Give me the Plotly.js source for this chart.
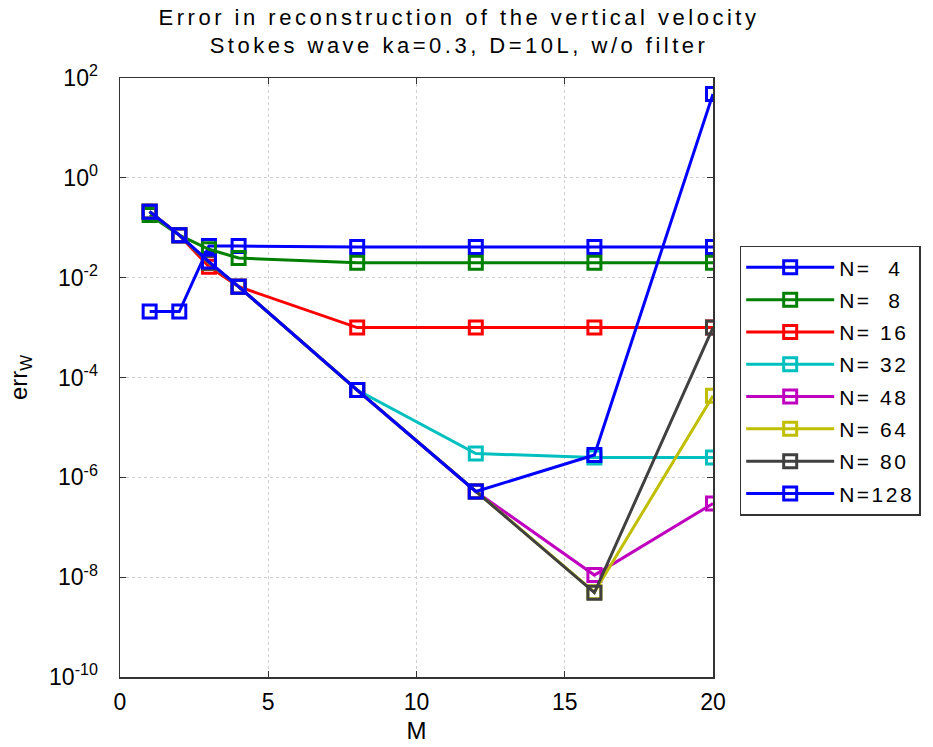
<!DOCTYPE html>
<html>
<head>
<meta charset="utf-8">
<script src="https://cdn.plot.ly/plotly-3.0.1.min.js"></script>
<style>
  html, body { margin: 0; padding: 0; background: #fff; }
  #chart { width: 933px; height: 747px; }
  /* wide tracking on the title and legend labels */
  .gtitle { letter-spacing: 3.5px; }
  .legendtext { letter-spacing: 2.5px; }
</style>
</head>
<body>
<div id="chart"></div>
<script>
// Truncation order M
const M = [1, 2, 3, 4, 8, 12, 16, 20];

// Error in reconstructed vertical velocity, one series per resolution N
const errN4   = [2.1e-3, 2.1e-3, 0.043, 0.043, 0.041, 0.041, 0.041, 0.041];
const errN8   = [0.18, 0.071, 0.037, 0.0247, 0.020, 0.020, 0.020, 0.020];
const errN16  = [0.21, 0.071, 0.0166, 0.0066, 1.0e-3, 1.0e-3, 1.0e-3, 1.0e-3];
const errN32  = [0.21, 0.071, 0.020, 0.0066, 5.6e-5, 3.0e-6, 2.5e-6, 2.5e-6];
const errN48  = [0.21, 0.071, 0.020, 0.0066, 5.6e-5, 5.2e-7, 1.1e-8, 3.0e-7];
const errN64  = [0.21, 0.071, 0.020, 0.0066, 5.6e-5, 5.2e-7, 5.0e-9, 4.3e-5];
const errN80  = [0.21, 0.071, 0.020, 0.0066, 5.6e-5, 5.2e-7, 4.9e-9, 1.0e-3];
const errN128 = [0.21, 0.071, 0.021, 0.0066, 5.6e-5, 5.2e-7, 2.8e-6, 48];

const seriesNames = ['N=  4', 'N=  8', 'N= 16', 'N= 32', 'N= 48', 'N= 64', 'N= 80', 'N=128'];
const seriesData = [errN4, errN8, errN16, errN32, errN48, errN64, errN80, errN128];
const seriesColors = ['#0000ff', '#008000', '#ff0000', '#00bfbf', '#bf00bf', '#bfbf00', '#404040', '#0000ff'];

// Decade ticks on the log axis
const yTickVals = [1e-10, 1e-8, 1e-6, 1e-4, 1e-2, 1e0, 1e2];
const yTickText = ['10<sup>-10</sup>', '10<sup>-8</sup>', '10<sup>-6</sup>', '10<sup>-4</sup>',
                   '10<sup>-2</sup>', '10<sup>0</sup>', '10<sup>2</sup>'];

const FONT = 'Liberation Sans, Arial, sans-serif';

const traces = seriesData.map((ys, i) => ({
  x: M,
  y: ys,
  name: seriesNames[i].replace(/ /g, '\u00a0'),
  type: 'scatter',
  mode: 'lines+markers',
  legendgroup: 'g' + i,
  line: { color: seriesColors[i], width: 3 },
  marker: {
    symbol: 'square-open',
    size: 13,
    color: seriesColors[i],
    line: { color: seriesColors[i], width: 3 }
  }
}));

const layout = {
  width: 933,
  height: 747,
  margin: { l: 120, r: 217, t: 78, b: 70 },
  paper_bgcolor: '#ffffff',
  plot_bgcolor: '#ffffff',
  font: { family: FONT, color: '#000000', size: 23 },
  title: {
    text: 'Error in reconstruction of the vertical velocity<br>Stokes wave ka=0.3, D=10L, w/o filter',
    font: { family: FONT, size: 22, color: '#000000' },
    x: 0.492,
    xref: 'container',
    xanchor: 'center',
    y: 0.967,
    yref: 'container',
    yanchor: 'middle'
  },
  xaxis: {
    range: [0, 20],
    tickvals: [0, 5, 10, 15, 20],
    ticks: 'inside',
    ticklen: 6,
    tickcolor: '#333333',
    showline: true,
    linecolor: '#333333',
    linewidth: 1.5,
    mirror: 'ticks',
    showgrid: true,
    gridcolor: '#cfcfcf',
    griddash: 'dot',
    gridwidth: 1,
    zeroline: false,
    tickfont: { family: FONT, size: 23 },
    ticklabelstandoff: 4,
    title: { text: 'M', font: { family: FONT, size: 24 }, standoff: 8 }
  },
  yaxis: {
    type: 'log',
    range: [-10, 2],
    tickvals: yTickVals,
    ticktext: yTickText,
    ticks: 'inside',
    ticklen: 6,
    tickcolor: '#333333',
    showline: true,
    linecolor: '#333333',
    linewidth: 1.5,
    mirror: 'ticks',
    showgrid: true,
    gridcolor: '#cfcfcf',
    griddash: 'dot',
    gridwidth: 1,
    zeroline: false,
    tickfont: { family: FONT, size: 23 },
    ticklabelstandoff: 16,
    title: { text: 'err<sub>W</sub>', font: { family: FONT, size: 24 }, standoff: 14 }
  },
  showlegend: true,
  legend: {
    x: 1.045,
    xanchor: 'left',
    y: 0.72,
    yanchor: 'top',
    bgcolor: '#ffffff',
    bordercolor: '#333333',
    borderwidth: 1.5,
    font: { family: FONT, size: 21, color: '#000000' },
    itemwidth: 88,
    tracegroupgap: 2
  }
};

Plotly.newPlot('chart', traces, layout, { displayModeBar: false, staticPlot: true });
</script>
</body>
</html>
